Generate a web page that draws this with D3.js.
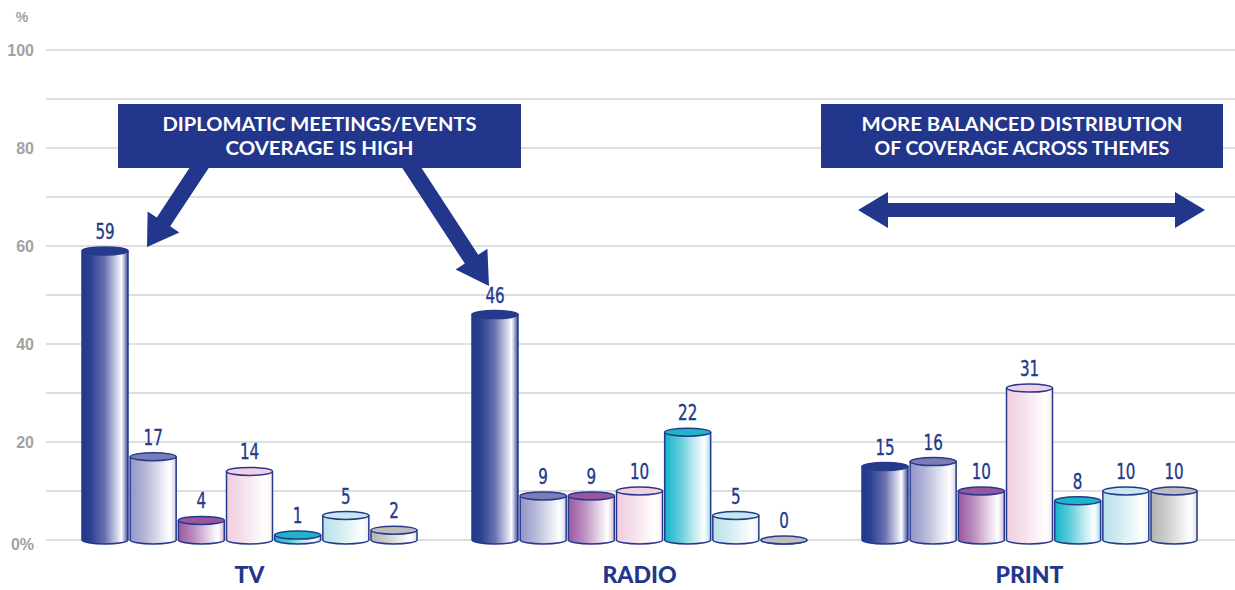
<!DOCTYPE html>
<html>
<head>
<meta charset="utf-8">
<script src="https://cdn.jsdelivr.net/npm/d3@7"></script>
<style>
  html, body { margin: 0; padding: 0; background: #ffffff; }
  svg { display: block; }
</style>
</head>
<body>
<svg id="chart" width="1235" height="590"></svg>
<script>
// Media categories and the share (%) of coverage per theme, seven themes each
const categories = ["TV", "RADIO", "PRINT"];
const tvValues    = [59, 17, 4, 14, 1, 5, 2];
const radioValues = [46, 9, 9, 10, 22, 5, 0];
const printValues = [15, 16, 10, 31, 8, 10, 10];
const yTickValues = [0, 20, 40, 60, 80, 100];
const yTickLabels = ["0%", "20", "40", "60", "80", "100"];
const gridValues  = [0, 10, 20, 30, 40, 50, 60, 70, 80, 90, 100];

// Theme palette: side gradient start, cap colour
const themeBase = ["#223a8c", "#9195c6", "#9a559f", "#f0cde0", "#14b3c9", "#b6e1e8", "#b3b3b3"];
const themeCap  = ["#243b8c", "#7a7eb7", "#9a559f", "#f3d0e3", "#20b4c8", "#c4e8ee", "#bdbdbd"];

const seriesByCategory = [tvValues, radioValues, printValues];

const svg = d3.select("#chart");
const navy = "#22368b";
const outline = "#26398c";

const y = d3.scaleLinear().domain([0, 100]).range([540, 50]);

const xGroup = d3.scaleBand().domain(categories).range([54.5, 1224.5]).paddingInner(0).paddingOuter(0);
const themeIdx = d3.range(7);
const xInner = d3.scaleBand().domain(themeIdx).range([27.5, 362.5]).paddingInner(0.045).paddingOuter(0);

// Gradients for cylinder sides
const defs = svg.append("defs");
themeBase.forEach((c, i) => {
  const g = defs.append("linearGradient").attr("id", "side" + i)
    .attr("x1", "0%").attr("x2", "100%").attr("y1", "0%").attr("y2", "0%");
  let stops;
  if (i === 0) {
    stops = [[0, "#223a8c"], [0.18, "#2a408f"], [0.5, "#6a72b0"], [0.78, "#d9dbee"], [0.86, "#ffffff"], [0.93, "#9ea3cf"], [1, "#3b4a98"]];
  } else {
    const light = d3.interpolateRgb(c, "#ffffff");
    stops = [[0, c], [0.35, light(0.35)], [0.7, light(0.8)], [0.86, "#ffffff"], [0.95, light(0.75)], [1, light(0.45)]];
  }
  stops.forEach(([o, col]) => g.append("stop").attr("offset", o).attr("stop-color", col));
});

// Horizontal gridlines
svg.append("g").selectAll("line").data(gridValues).join("line")
  .attr("x1", 46).attr("x2", 1235)
  .attr("y1", d => y(d)).attr("y2", d => y(d))
  .attr("stroke", "#d3d3d3").attr("stroke-width", 1.6);

// Y axis labels
const yAxis = d3.axisLeft(y).tickValues(yTickValues)
  .tickFormat((d, i) => yTickLabels[i]).tickSize(0).tickPadding(0);
const yAxisG = svg.append("g").attr("transform", "translate(34,0)").call(yAxis);
yAxisG.select(".domain").remove();
yAxisG.selectAll("text")
  .attr("font-family", "'Liberation Sans', Arial, sans-serif")
  .attr("font-weight", "bold").attr("font-size", 16).attr("fill", "#a2a2a2")
  .attr("dy", d => d === 0 ? "0.62em" : "0.36em");

svg.append("text").attr("x", 22).attr("y", 22).attr("text-anchor", "middle")
  .attr("font-family", "'Liberation Sans', Arial, sans-serif")
  .attr("font-weight", "bold").attr("font-size", 14).attr("fill", "#a2a2a2").text("%");

// Cylinders
const ry = 4;
const groups = svg.append("g").selectAll("g.cat").data(categories).join("g")
  .attr("class", "cat")
  .attr("transform", d => `translate(${xGroup(d)},0)`);

groups.each(function(cat, ci) {
  const g = d3.select(this);
  const vals = seriesByCategory[ci];
  const bw = xInner.bandwidth();
  const rx = bw / 2;
  const bars = g.selectAll("g.bar").data(vals.map((v, i) => ({ v, i }))).join("g").attr("class", "bar");

  bars.append("path")
    .attr("d", d => {
      const x0 = xInner(d.i), x1 = x0 + bw;
      const yt = y(d.v), yb = y(0);
      return `M${x0},${yt} L${x0},${yb} A${rx},${ry} 0 0 0 ${x1},${yb} L${x1},${yt} Z`;
    })
    .attr("fill", d => `url(#side${d.i})`)
    .attr("stroke", outline).attr("stroke-width", 1.5).attr("stroke-linejoin", "round");

  bars.append("ellipse")
    .attr("cx", d => xInner(d.i) + rx)
    .attr("cy", d => y(d.v))
    .attr("rx", rx).attr("ry", ry)
    .attr("fill", d => themeCap[d.i])
    .attr("stroke", outline).attr("stroke-width", 1.5);

  bars.append("text")
    .attr("transform", d => `translate(${xInner(d.i) + rx},${y(d.v) - 12}) scale(0.8,1.05)`)
    .attr("text-anchor", "middle")
    .attr("font-family", "'Liberation Sans Narrow', 'DejaVu Sans Condensed', sans-serif")
    .attr("font-size", 21).attr("fill", "#24398c")
    .attr("stroke", "#24398c").attr("stroke-width", 0.35)
    .text(d => d.v);
});

// Category labels
svg.append("g").selectAll("text").data(categories).join("text")
  .attr("x", d => xGroup(d) + xGroup.bandwidth() / 2)
  .attr("y", 583)
  .attr("text-anchor", "middle")
  .attr("font-family", "Lato, 'Open Sans', sans-serif")
  .attr("font-weight", 900).attr("font-size", 23).attr("fill", navy)
  .text(d => d);

// Callout boxes
const callouts = [
  { x: 118, y: 104, w: 403, h: 64, lines: ["DIPLOMATIC MEETINGS/EVENTS", "COVERAGE IS HIGH"], widths: [314, 188] },
  { x: 821, y: 104, w: 402, h: 64, lines: ["MORE BALANCED DISTRIBUTION", "OF COVERAGE ACROSS THEMES"], widths: [321, 295] }
];

// Arrow polygon from tail point to tip
function arrowPath(x0, y0, x1, y1, shaftW, headW, headL) {
  const dx = x1 - x0, dy = y1 - y0, L = Math.hypot(dx, dy);
  const ux = dx / L, uy = dy / L, px = -uy, py = ux;
  const bx = x1 - ux * headL, by = y1 - uy * headL;
  const s = shaftW / 2, h = headW / 2;
  const pts = [
    [x0 + px * s, y0 + py * s], [bx + px * s, by + py * s], [bx + px * h, by + py * h],
    [x1, y1],
    [bx - px * h, by - py * h], [bx - px * s, by - py * s], [x0 - px * s, y0 - py * s]
  ];
  return "M" + pts.map(p => p.join(",")).join("L") + "Z";
}

function doubleArrowPath(xa, xb, yc, shaftH, headH, headL) {
  const s = shaftH / 2, h = headH / 2;
  const pts = [
    [xa, yc], [xa + headL, yc - h], [xa + headL, yc - s], [xb - headL, yc - s], [xb - headL, yc - h],
    [xb, yc], [xb - headL, yc + h], [xb - headL, yc + s], [xa + headL, yc + s], [xa + headL, yc + h]
  ];
  return "M" + pts.map(p => p.join(",")).join("L") + "Z";
}

const ann = svg.append("g");
ann.append("path").attr("d", arrowPath(203, 162, 147, 247, 16, 38, 30)).attr("fill", navy);
ann.append("path").attr("d", arrowPath(408, 162, 489, 286, 16, 38, 32)).attr("fill", navy);
ann.append("path").attr("d", doubleArrowPath(858, 1205, 210, 14, 36, 30)).attr("fill", navy);

callouts.forEach(c => {
  ann.append("rect").attr("x", c.x).attr("y", c.y).attr("width", c.w).attr("height", c.h).attr("fill", navy);
  c.lines.forEach((t, i) => {
    ann.append("text")
      .attr("x", c.x + c.w / 2).attr("y", 131 + i * 24)
      .attr("text-anchor", "middle")
      .attr("font-family", "Lato, 'Open Sans', sans-serif")
      .attr("font-weight", "bold").attr("font-size", 18).attr("fill", "#ffffff")
      .attr("textLength", c.widths[i]).attr("lengthAdjust", "spacingAndGlyphs")
      .text(t);
  });
});
</script>
</body>
</html>
